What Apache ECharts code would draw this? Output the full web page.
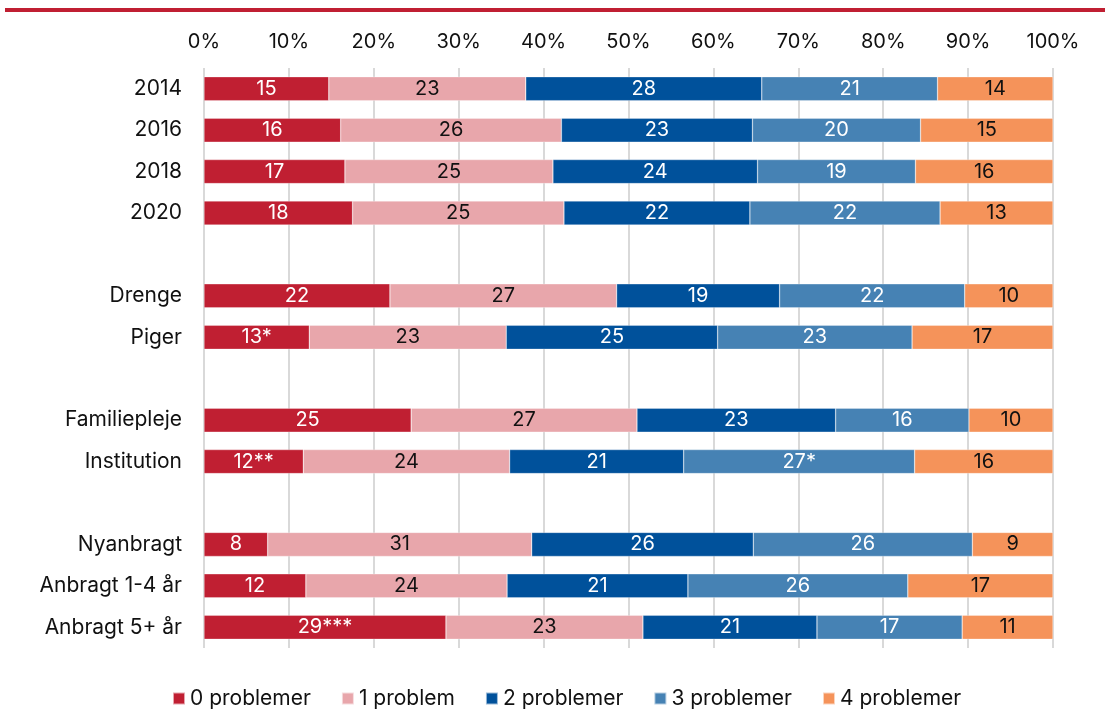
<!DOCTYPE html>
<html>
<head>
<meta charset="utf-8">
<script src="https://cdn.jsdelivr.net/npm/echarts@6/dist/echarts.min.js"></script>
<style>
  html, body { margin: 0; padding: 0; background: #fff; }
  #chart { width: 1105px; height: 709px; }
</style>
</head>
<body>
<div id="chart"></div>
<script>
// rows top to bottom, blank names = spacer rows
const categories = ['2014', '2016', '2018', '2020', '', 'Drenge', 'Piger', ' ', 'Familiepleje', 'Institution', '  ', 'Nyanbragt', 'Anbragt 1-4 år', 'Anbragt 5+ år']

const seriesNames = ['0 problemer', '1 problem', '2 problemer', '3 problemer', '4 problemer']

// bar lengths (%)
const p0 = [14.7, 16.1, 16.6, 17.5, null, 21.9, 12.4, null, 24.4, 11.7, null, 7.5, 12.0, 28.5]
const p1 = [23.2, 26.0, 24.5, 24.9, null, 26.7, 23.2, null, 26.6, 24.3, null, 31.1, 23.7, 23.2]
const p2 = [27.8, 22.5, 24.1, 21.9, null, 19.2, 24.9, null, 23.4, 20.5, null, 26.1, 21.3, 20.5]
const p3 = [20.7, 19.8, 18.6, 22.4, null, 21.8, 22.9, null, 15.7, 27.2, null, 25.8, 25.9, 17.1]
const p4 = [13.6, 15.6, 16.2, 13.3, null, 10.4, 16.6, null, 9.9, 16.3, null, 9.5, 17.1, 10.7]

// printed labels
const l0 = ['15', '16', '17', '18', '', '22', '13*', '', '25', '12**', '', '8', '12', '29***']
const l1 = ['23', '26', '25', '25', '', '27', '23', '', '27', '24', '', '31', '24', '23']
const l2 = ['28', '23', '24', '22', '', '19', '25', '', '23', '21', '', '26', '21', '21']
const l3 = ['21', '20', '19', '22', '', '22', '23', '', '16', '27*', '', '26', '26', '17']
const l4 = ['14', '15', '16', '13', '', '10', '17', '', '10', '16', '', '9', '17', '11']

const colors = ['#c01f32', '#e8a6ab', '#00519b', '#4682b4', '#f5935a']
const labelColors = ['#fff', '#111', '#fff', '#fff', '#111']
const values = [p0, p1, p2, p3, p4]
const labels = [l0, l1, l2, l3, l4]

const FONT = 'Inter, "Noto Sans", sans-serif'

const chart = echarts.init(document.getElementById('chart'))

const option = {
  animation: false,
  textStyle: { fontFamily: FONT },
  color: colors,
  graphic: [
    { type: 'rect', shape: { x: 5, y: 8, width: 1100, height: 4 }, style: { fill: '#c01f32' } }
  ],
  grid: { left: 204, right: 52, top: 68, bottom: 61, containLabel: false },
  legend: {
    top: 683,
    left: 167,
    itemWidth: 12,
    itemHeight: 12,
    itemGap: 30,
    icon: 'rect',
    textStyle: { fontFamily: FONT, fontSize: 21, color: '#111' },
    data: seriesNames
  },
  xAxis: {
    type: 'value',
    position: 'top',
    min: 0,
    max: 100,
    interval: 10,
    axisLine: { show: false },
    axisTick: { show: false },
    axisLabel: { formatter: '{value}%', fontFamily: FONT, fontSize: 20, color: '#111', margin: 16 },
    splitLine: { show: true, lineStyle: { color: '#d9d9d9', width: 2 } }
  },
  yAxis: {
    type: 'category',
    inverse: true,
    data: categories,
    axisLine: { show: false },
    axisTick: { show: false },
    axisLabel: { fontFamily: FONT, fontSize: 21, color: '#111', margin: 22 }
  },
  series: values.map((vals, i) => ({
    name: seriesNames[i],
    type: 'bar',
    stack: 'total',
    barWidth: 24,
    itemStyle: { color: colors[i], borderColor: 'rgba(255,255,255,0.6)', borderWidth: 0.5 },
    label: {
      show: true,
      position: 'inside',
      fontFamily: FONT,
      fontSize: 20,
      color: labelColors[i],
      formatter: (p) => labels[i][p.dataIndex]
    },
    data: vals
  }))
}

chart.setOption(option)
</script>
</body>
</html>
